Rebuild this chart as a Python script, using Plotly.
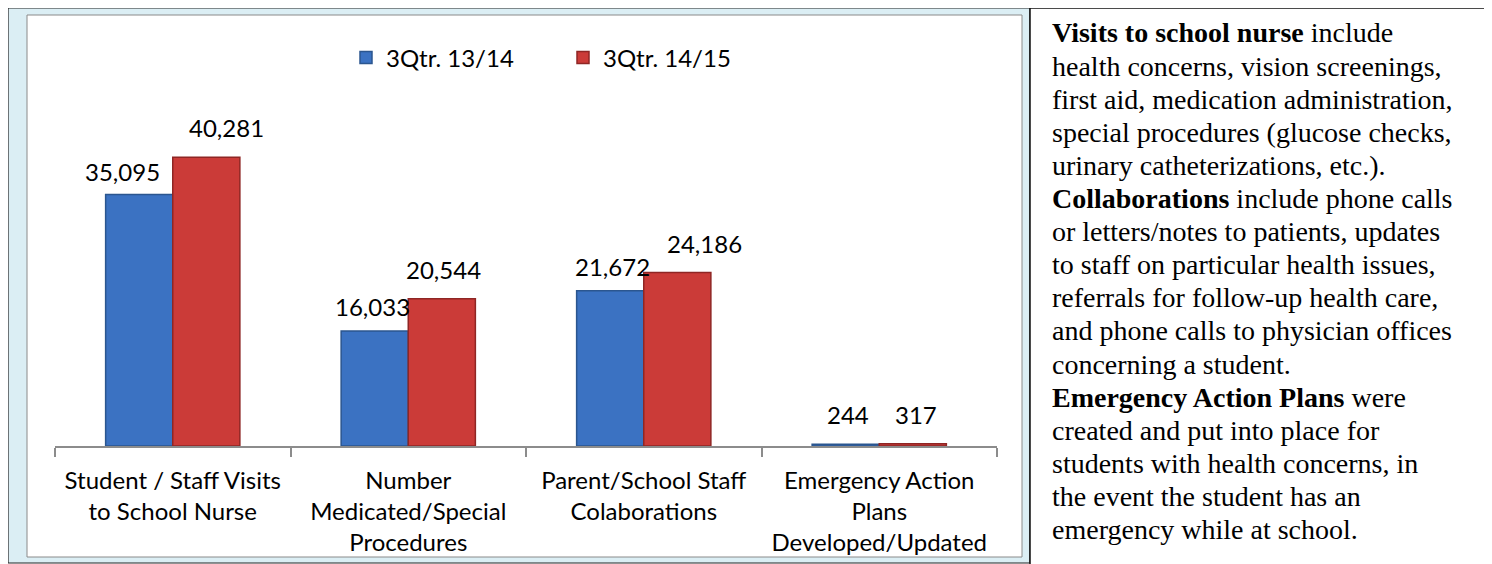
import plotly.graph_objects as go

# ---- data ----
categories = [
    "Student / Staff Visits<br>to School Nurse",
    "Number<br>Medicated/Special<br>Procedures",
    "Parent/School Staff<br>Colaborations",
    "Emergency Action<br>Plans<br>Developed/Updated",
]
series_names = ["3Qtr. 13/14", "3Qtr. 14/15"]
values_1314 = [35095, 16033, 21672, 244]
values_1415 = [40281, 20544, 24186, 317]

note_lines = [
    "<b>Visits to school nurse</b> include",
    "health concerns, vision screenings,",
    "first aid, medication administration,",
    "special procedures (glucose checks,",
    "urinary catheterizations, etc.).",
    "<b>Collaborations</b> include phone calls",
    "or letters/notes to patients, updates",
    "to staff on particular health issues,",
    "referrals for follow-up health care,",
    "and phone calls to physician offices",
    "concerning a student.",
    "<b>Emergency Action Plans</b> were",
    "created and put into place for",
    "students with health concerns, in",
    "the event the student has an",
    "emergency while at school.",
]

# label placement nudges (pixels), mimicking the original label layout
label_dx = {0: [-17, -2, 2, 2], 1: [20, 2, 27, 3]}
label_dy = {0: [-7, -5, -5, 0], 1: [0, 0, 0, 0]}

OFF = 8  # page body margin
W, H = 1492 - OFF, 564 - OFF
def px(x):
    return max(0.0, (x - OFF) / W)
def py(y):
    return min(1.0, 1 - (y - OFF) / H)

colors = ["#3b72c2", "#cb3b38"]
line_colors = ["#2b568f", "#8f2624"]
FONT = "Lato"

fig = go.Figure()
for name, vals, c, lc in zip(series_names, [values_1314, values_1415], colors, line_colors):
    fig.add_trace(go.Bar(
        x=categories, y=vals, name=name,
        marker=dict(color=c, line=dict(color=lc, width=1.5)),
        hoverinfo="skip",
    ))

# value labels
axis_l, axis_r = 55, 997
cat_w = (axis_r - axis_l) / len(categories)
bargap = 0.43
bar_w = cat_w * (1 - bargap) / 2
annotations = []
for s, (vals, sgn) in enumerate([(values_1314, -1), (values_1415, 1)]):
    for j, (cat, v) in enumerate(zip(categories, vals)):
        annotations.append(dict(
            x=cat, y=v, xref="x", yref="y", text=f"{v:,}", showarrow=False,
            xshift=sgn * bar_w / 2 + label_dx[s][j], yshift=13 + label_dy[s][j], yanchor="bottom",
            font=dict(family=FONT, size=24, color="#000"),
        ))

# note text box lines
for i, line in enumerate(note_lines):
    annotations.append(dict(
        x=px(1050), y=py(33 + 33.1 * i), xref="paper", yref="paper",
        xanchor="left", yanchor="middle", text=line, showarrow=False,
        font=dict(family="Liberation Serif", size=28, color="#000"),
    ))

shapes = [
    # light blue frame
    dict(type="rect", xref="paper", yref="paper", x0=px(6), x1=px(1030), y0=py(563), y1=py(5),
         fillcolor="#dbeef4", line=dict(color="#222", width=1.2), layer="below"),
    # inner white chart area
    dict(type="rect", xref="paper", yref="paper", x0=px(27), x1=px(1022), y0=py(557), y1=py(15),
         fillcolor="#ffffff", line=dict(color="#8a8a8a", width=1), layer="below"),
    # note box
    dict(type="rect", xref="paper", yref="paper", x0=px(1030), x1=px(1485), y0=py(570), y1=py(5),
         fillcolor="#ffffff", line=dict(color="#111", width=1.5), layer="below"),
]

baseline = 446
ymax = 45000
top_px = baseline - ymax / 139.5

fig.update_layout(
    width=W, height=H,
    margin=dict(l=0, r=0, t=0, b=0),
    paper_bgcolor="#ffffff", plot_bgcolor="rgba(0,0,0,0)",
    barmode="group", bargap=bargap, bargroupgap=0,
    showlegend=True,
    legend=dict(orientation="h", x=px(346), xanchor="left", y=py(58), yanchor="middle",
                font=dict(family=FONT, size=24, color="#000"), entrywidth=172,
                bgcolor="rgba(0,0,0,0)"),
    xaxis=dict(domain=[px(axis_l), px(axis_r)], showline=True, linecolor="#8c8c8c", linewidth=2,
               ticks="outside", tickson="boundaries", ticklen=9, tickcolor="#8c8c8c", tickwidth=2,
               ticklabelstandoff=12,
               tickfont=dict(family=FONT, size=24, color="#000"), showgrid=False),
    yaxis=dict(domain=[py(baseline), py(top_px)], range=[0, ymax], visible=False),
    annotations=annotations,
    shapes=shapes,
)

fig.write_html("out.html")
